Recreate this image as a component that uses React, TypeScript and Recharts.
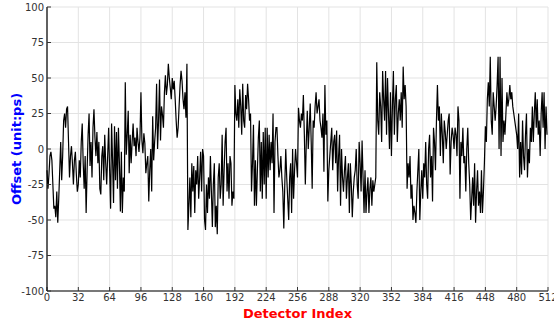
import { LineChart, Line, XAxis, YAxis, CartesianGrid } from "recharts";

// x axis: detector index 0..512, y axis: offset in ps
const xTicks = [0, 32, 64, 96, 128, 160, 192, 224, 256, 288, 320, 352, 384, 416, 448, 480, 512];
const yTicks = [-100, -75, -50, -25, 0, 25, 50, 75, 100];

// offset per detector (512 values)
const offsets = [
  -15, -28, -18, -5, -2, -8, -25, -42, -40, -48, -30, -52, -35, -15, 5, -22,
  -5, 20, 25, 15, 28, 30, 5, -20, -5, 2, -10, -25, -8, -2, -18, -30,
  -25, -8, -20, 5, 18, -10, -28, -5, -45, -15, 10, 25, -12, 5, -20, 15,
  28, 8, -5, 12, -10, 5, -28, -32, -5, 2, -22, 10, -10, -25, -5, 15,
  -15, -42, 18, -8, -38, 16, -22, 12, -28, 15, -10, -44, -2, -45, -20, -30,
  47, -4, 10, 27, -17, 10, -10, 5, 18, 2, 8, -5, 15, 5, -2, 8,
  40, 6, -3, 11, 4, -17, -10, -5, -37, -15, 0, -30, 23, -8, 5, 15,
  46, 0, 20, 49, 6, 30, 24, 15, 40, 52, 38, 45, 60, 50, 43, 35,
  50, 42, 48, 35, 20, 8, 15, 30, 45, 55, 48, 35, 28, 40, 22, 60,
  -57, -40, -20, -48, -10, -30, -12, -45, -15, -25, -5, -35, -20, -2, -30, 0,
  -5, -50, -57, -25, -45, -20, -35, -5, -30, -55, -25, -10, -55, -40, -60, -20,
  -10, -35, -25, 10, -40, -15, 5, 15, -30, -10, -35, -5, -10, -40, -30, -35,
  45, 25, 20, 35, 15, 42, 30, 10, 46, 20, 15, 38, 28, 46, 35, 20,
  25, -30, -10, 17, -40, -8, -40, -15, 8, 20, -30, 5, -35, 12, -25, 15,
  -35, 15, -20, 10, -15, 5, -10, 25, -45, 5, 15, 15, -5, -20, -15, -5,
  -20, -30, -56, -25, 0, -20, -35, -50, -20, -10, -45, 0, -35, -15, 0, -10,
  -20, 29, 20, 15, 25, 20, 38, 10, -25, 5, 27, 0, 15, 32, 5, -28,
  20, 15, 30, 40, 25, 30, 35, 20, 15, 8, 25, -16, 45, 10, 20, -37,
  -15, -5, 5, 15, -15, 5, 10, -10, 13, -30, -5, 10, -40, 0, -20, -30,
  -15, -5, -35, -20, -10, -45, -10, -25, -48, -30, -20, -15, 0, -25, -35, 5,
  -10, -30, 6, -20, -45, -15, -45, -30, -20, -45, -28, -20, -40, -22, -30, -25,
  -20, 61, 20, 10, 40, 30, 5, 55, 35, 20, 55, 10, 50, 25, 0, 40,
  -5, 30, 55, 10, 35, 45, 5, 25, 35, 20, 40, 15, 58, 35, 45, 30,
  -28, -10, -20, -5, -35, -25, -50, -40, -45, -52, -30, -15, 0, -50, -30, -15,
  -35, -10, -20, 5, -25, -35, 0, 10, -20, -5, -37, 15, 5, -15, 20, 45,
  20, 30, -5, 25, 10, -10, 20, 12, 0, 10, 20, 25, -18, 5, 15, 10,
  0, 15, 10, -5, 30, 20, -35, 5, -5, 15, -10, -5, -30, 0, 15, -10,
  -25, -50, -35, -20, -40, -10, -52, -30, -15, -40, -30, -45, -15, -45, -30, -10,
  16, 5, 35, 47, 30, 65, 20, 10, 40, 30, 20, 30, 45, 65, 0, 65,
  -5, 50, 5, 20, 10, 25, 40, 30, 35, 45, 35, 40, 30, 25, 20, 15,
  10, 0, 25, -20, 5, -18, 20, -5, -15, 10, 25, -20, 0, -10, 15, 5,
  30, 5, 25, 40, 15, 35, 10, 20, -5, 25, 40, 15, 40, 0, 30, 10,
];

const data = offsets.map((v, i) => ({ index: i, offset: v }));

const FONT = "DejaVu Sans";
const tickStyle = { fill: "#333", fontSize: 10, fontFamily: FONT };
const axisLine = { stroke: "#000", strokeWidth: 1.2 };
const tickLine = { stroke: "#333" };

export default function App() {
  return (
    <div style={{ position: "absolute", left: 0, top: 0, width: 554, height: 324, background: "#fff" }}>
      <LineChart width={554} height={324} data={data} margin={{ top: 7, right: 6, left: 0, bottom: 0 }}>
        <CartesianGrid stroke="#e3e3e3" />
        <XAxis
          dataKey="index"
          type="number"
          domain={[0, 512]}
          ticks={xTicks}
          interval={0}
          height={33}
          tick={tickStyle}
          axisLine={axisLine}
          tickLine={tickLine}
          tickSize={-4}
          tickMargin={7}
          label={{
            content: (p: any) => (
              <text
                x={p.viewBox.x + p.viewBox.width / 2}
                y={p.viewBox.y + 27}
                textAnchor="middle"
                fill="#ff0000"
                fontWeight="bold"
                fontSize={13}
                fontFamily={FONT}
              >
                Detector Index
              </text>
            ),
          }}
        />
        <XAxis
          xAxisId="top"
          orientation="top"
          type="number"
          domain={[0, 512]}
          ticks={xTicks}
          interval={0}
          height={0}
          tick={false}
          axisLine={axisLine}
          tickLine={tickLine}
          tickSize={-4}
        />
        <YAxis
          type="number"
          domain={[-100, 100]}
          ticks={yTicks}
          interval={0}
          width={47}
          tick={tickStyle}
          axisLine={axisLine}
          tickLine={tickLine}
          tickSize={-4}
          tickMargin={7}
          label={{
            content: (p: any) => {
              const cx = p.viewBox.x + 16;
              const cy = p.viewBox.y + p.viewBox.height / 2;
              return (
                <text
                  x={cx}
                  y={cy}
                  transform={`rotate(-90 ${cx} ${cy})`}
                  textAnchor="middle"
                  dominantBaseline="central"
                  fill="#0000ff"
                  fontWeight="bold"
                  fontSize={13}
                  fontFamily={FONT}
                >
                  Offset (unit:ps)
                </text>
              );
            },
          }}
        />
        <YAxis
          yAxisId="right"
          orientation="right"
          type="number"
          domain={[-100, 100]}
          ticks={yTicks}
          interval={0}
          width={0}
          tick={false}
          axisLine={axisLine}
          tickLine={tickLine}
          tickSize={-4}
        />
        <Line
          type="linear"
          dataKey="offset"
          stroke="#000"
          strokeWidth={1.2}
          dot={false}
          isAnimationActive={false}
        />
      </LineChart>
    </div>
  );
}
